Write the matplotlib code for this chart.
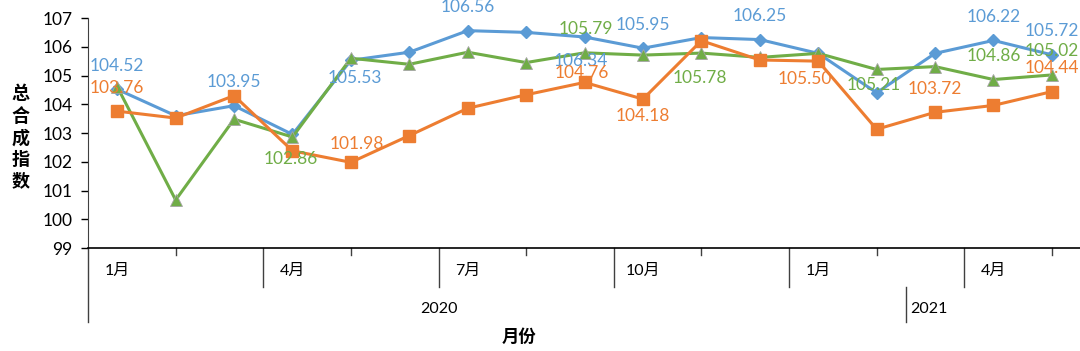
import matplotlib
matplotlib.use("Agg")
import numpy as np
import matplotlib.pyplot as plt

plt.rcParams['font.family'] = ['Lato', 'Noto Sans CJK SC', 'DejaVu Sans']

# 2020-01 .. 2021-05
blue_vals = [104.52, 103.60, 103.95, 102.95, 105.53, 105.81, 106.56, 106.50, 106.34,
             105.95, 106.32, 106.25, 105.77, 104.40, 105.77, 106.22, 105.72]
orange_vals = [103.76, 103.52, 104.30, 102.38, 101.98, 102.91, 103.86, 104.33, 104.76,
               104.18, 106.21, 105.54, 105.50, 103.13, 103.72, 103.96, 104.44]
green_vals = [104.61, 100.67, 103.48, 102.86, 105.60, 105.39, 105.81, 105.45, 105.79,
              105.71, 105.78, 105.63, 105.77, 105.21, 105.31, 104.86, 105.02]

month_labels = ["1月", "4月", "7月", "10月", "1月", "4月"]
month_pos = [0, 3, 6, 9, 12, 15]
year_labels = ["2020", "2021"]
year_pos = [5.5, 13.9]

# which points carry a value label, with offset (points)
blue_lab = {0: (0, 17), 2: (0, 17), 4: (3, -13), 6: (0, 17), 8: (-3, -17),
            9: (0, 17), 11: (0, 17), 15: (0, 17), 16: (0, 17)}
orange_lab = {0: (0, 17), 4: (4, 13), 8: (-2, 7), 9: (0, -12), 12: (-10, -13),
              14: (0, 17), 16: (0, 17)}
green_lab = {3: (-1, -16), 8: (1, 17), 10: (-1, -18), 13: (-2, -11),
             15: (0, 17), 16: (0, 17)}

BLUE = "#5B9BD5"
ORANGE = "#ED7D31"
GREEN = "#70AD47"

x = np.arange(len(blue_vals))

fig = plt.figure(figsize=(10.8, 3.51), dpi=100)
ax = fig.add_axes([0.0815, 0.2934, 0.9195, 0.6553])

ax.plot(x, blue_vals, color=BLUE, lw=2.2, marker="D", ms=6.5, zorder=3)
ax.plot(x, orange_vals, color=ORANGE, lw=2.2, marker="s", ms=8, zorder=4)
ax.plot(x, green_vals, color=GREEN, lw=2.2, marker="^", ms=8.5,
        mec="#A5A5A5", mew=0.6, zorder=3)

for vals, labs, col in [(blue_vals, blue_lab, BLUE), (orange_vals, orange_lab, ORANGE),
                        (green_vals, green_lab, GREEN)]:
    for i, (dx, dy) in labs.items():
        ax.annotate(f"{vals[i]:.2f}", (x[i], vals[i]), xytext=(dx, dy),
                    textcoords="offset points", ha="center", va="center",
                    color=col, fontsize=12.5, annotation_clip=False, zorder=5)

ax.set_xlim(-0.5, len(x) - 0.5)
ax.set_ylim(99, 107)
ax.set_yticks(range(99, 108))
ax.tick_params(axis="y", labelsize=12.5, length=5, width=1, pad=6)
ax.set_xticks([])
for s in ["top", "right"]:
    ax.spines[s].set_visible(False)
ax.spines["left"].set_color("#404040")
ax.spines["bottom"].set_color("black")
ax.spines["bottom"].set_linewidth(1.2)

# multi-level category axis drawn below
tr = ax.get_xaxis_transform()
for p in [1, 4, 7, 10, 13, 16]:
    ax.plot([p, p], [0, -0.03], color="#404040", lw=1, transform=tr, clip_on=False)
for p in [2.5, 5.5, 8.5, 11.5, 14.5]:
    ax.plot([p, p], [0, -0.17], color="#404040", lw=1, transform=tr, clip_on=False)
ax.plot([-0.5, -0.5], [0, -0.32], color="#404040", lw=1, transform=tr, clip_on=False)
ax.plot([13.5, 13.5], [-0.17, -0.32], color="#404040", lw=1, transform=tr, clip_on=False)

for lab, p in zip(month_labels, month_pos):
    ax.text(p, -0.1, lab, transform=tr, ha="center", va="center", fontsize=11.5)
for lab, p in zip(year_labels, year_pos):
    ax.text(p, -0.265, lab, transform=tr, ha="center", va="center", fontsize=11.5)

ax.text(6.87, -0.387, "月份", transform=tr, ha="center", va="center",
        fontsize=12.5, fontweight="bold")
fig.text(0.019, 0.61, "总\n合\n成\n指\n数", ha="center", va="center",
         fontsize=13, fontweight="bold", linespacing=1.3)

fig.savefig("out.png", dpi=100)
